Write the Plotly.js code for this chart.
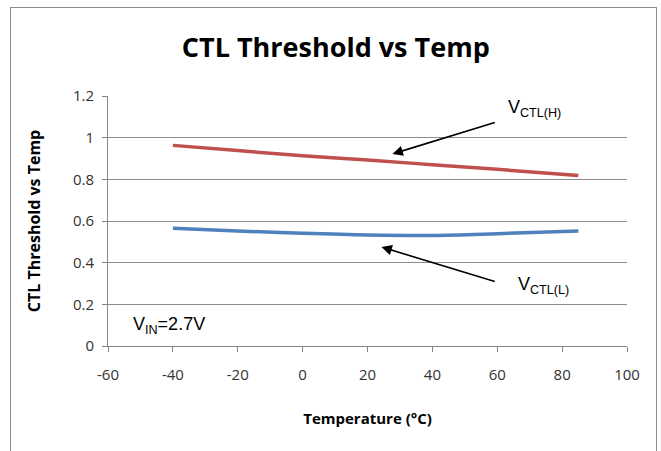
<!DOCTYPE html>
<html><head><meta charset="utf-8">
<script src="https://cdn.plot.ly/plotly-3.0.1.min.js"></script>
<style>
html,body{margin:0;padding:0;background:#fff;}
#wrap{position:relative;width:661px;height:451px;overflow:hidden;}
#chart{position:absolute;left:0;top:0;width:661px;height:451px;}
#frame{position:absolute;left:10px;top:7px;width:645px;height:460px;border:1px solid #8c8c8c;pointer-events:none;}
</style></head>
<body><div id="wrap"><div id="chart"></div><div id="frame"></div></div>
<script>
const temps = [-40, -20, 0, 20, 40, 60, 85];
const vctlH = [0.963, 0.938, 0.913, 0.893, 0.870, 0.848, 0.819];
const vctlL = [0.565, 0.552, 0.541, 0.533, 0.531, 0.539, 0.552];
const xTicks = [-60, -40, -20, 0, 20, 40, 60, 80, 100];
const xTickText = ['-60', '-40', '-20', '0', '20', '40', '60', '80', '100'];
const yTicks = [0, 0.2, 0.4, 0.6, 0.8, 1, 1.2];
const yTickText = ['0', '0.2', '0.4', '0.6', '0.8', '1', '1.2'];

const font = '"Open Sans", sans-serif';

const traces = [
  {x: temps, y: vctlH, mode: 'lines', line: {color: '#C0504D', width: 3.5, shape: 'spline'}, name: 'VCTL(H)'},
  {x: temps, y: vctlL, mode: 'lines', line: {color: '#4F81BD', width: 3.5, shape: 'spline'}, name: 'VCTL(L)'}
];

const layout = {
  width: 661, height: 451,
  margin: {l: 108, r: 34, t: 96, b: 105},
  paper_bgcolor: 'rgba(0,0,0,0)', plot_bgcolor: '#fff',
  showlegend: false,
  title: {text: '<b>CTL Threshold vs Temp</b>', x: 0.508, xanchor: 'center', y: 0.895, yanchor: 'middle',
          font: {family: font, size: 27, color: '#000'}},
  xaxis: {range: [-60, 100], tickvals: xTicks, ticktext: xTickText, showgrid: false, zeroline: false,
          showline: true, linecolor: '#868686', linewidth: 1,
          ticks: 'outside', ticklen: 5, tickcolor: '#868686', ticklabelstandoff: 10,
          tickfont: {family: font, size: 15, color: '#333'},
          title: {text: '<b>Temperature (°C)</b>', font: {family: font, size: 15, color: '#000'}, standoff: 30}},
  yaxis: {range: [0, 1.2], tickvals: yTicks, ticktext: yTickText, showgrid: true, gridcolor: '#8c8c8c', gridwidth: 1,
          zeroline: false, showline: true, linecolor: '#868686', linewidth: 1,
          ticks: 'outside', ticklen: 5, tickcolor: '#868686', ticklabelstandoff: 5,
          tickfont: {family: font, size: 15, color: '#333'},
          title: {text: '<b>CTL Threshold vs Temp</b>', font: {family: font, size: 16, color: '#000'}, standoff: 28}},
  annotations: [
    {x: 27.7, y: 0.922, xref: 'x', yref: 'y', ax: 59.7, ay: 1.075, axref: 'x', ayref: 'y',
     showarrow: true, arrowhead: 2, arrowsize: 1.3, arrowwidth: 1.6, arrowcolor: '#000', text: ''},
    {x: 62.8, y: 1.142, xref: 'x', yref: 'y', text: 'V<sub>CTL(H)</sub>', showarrow: false,
     xanchor: 'left', yanchor: 'middle', font: {family: 'Liberation Sans, Arial, sans-serif', size: 18, color: '#000'}},
    {x: 24.3, y: 0.475, xref: 'x', yref: 'y', ax: 59.7, ay: 0.307, axref: 'x', ayref: 'y',
     showarrow: true, arrowhead: 2, arrowsize: 1.3, arrowwidth: 1.6, arrowcolor: '#000', text: ''},
    {x: 65.8, y: 0.29, xref: 'x', yref: 'y', text: 'V<sub>CTL(L)</sub>', showarrow: false,
     xanchor: 'left', yanchor: 'middle', font: {family: 'Liberation Sans, Arial, sans-serif', size: 18, color: '#000'}},
    {x: -53, y: 0.1, xref: 'x', yref: 'y', text: 'V<sub>IN</sub>=2.7V', showarrow: false,
     xanchor: 'left', yanchor: 'middle', font: {family: 'Liberation Sans, Arial, sans-serif', size: 18, color: '#000'}}
  ]
};

Plotly.newPlot('chart', traces, layout, {displayModeBar: false, staticPlot: true});
</script></body></html>
